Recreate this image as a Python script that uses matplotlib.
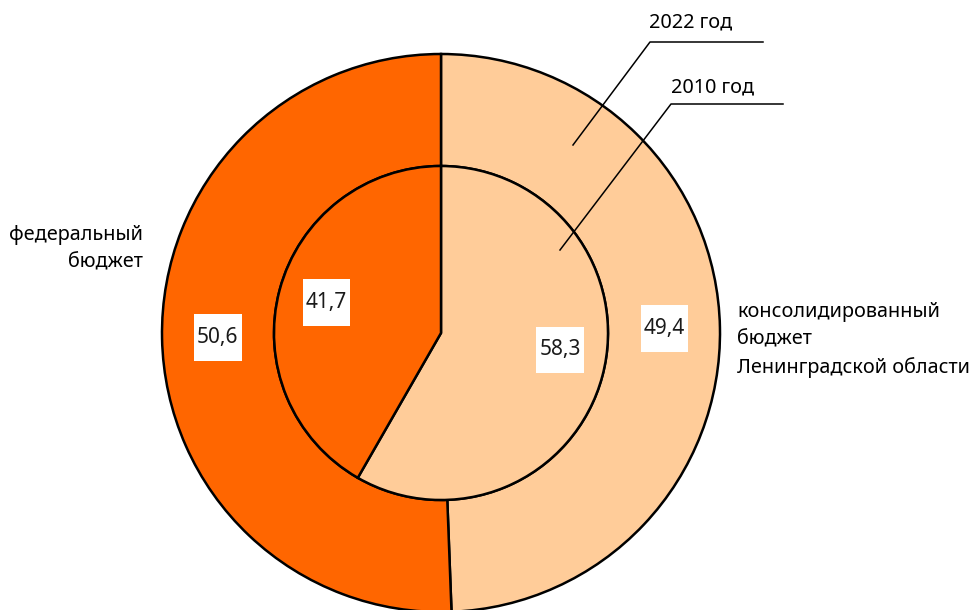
import matplotlib
matplotlib.use('Agg')
import matplotlib.pyplot as plt
from matplotlib.path import Path

# данные (%)
categories = ['консолидированный\nбюджет\nЛенинградской области', 'федеральный\nбюджет']
values_2022 = [49.4, 50.6]
values_2010 = [58.3, 41.7]
colors = ['#FFCC99', '#FF6600']

plt.rcParams['font.family'] = ['Noto Sans', 'DejaVu Sans']

W, H = 972, 610
fig = plt.figure(figsize=(W / 100, H / 100), dpi=100)
ax = fig.add_axes([0, 0, 1, 1])

cx, cy = 441, H - 333
r_out, r_in = 279, 167
fs = 14.3


def fmt(p):
    return f'{p:.1f}'.replace('.', ',')


def tall_box(x0, y0, w, h, mutation_size):
    # белая подложка: узкие поля по бокам, широкие сверху/снизу
    px, py = 0.14 * mutation_size, 0.62 * mutation_size
    x0, y0, x1, y1 = x0 - px, y0 - py, x0 + w + px, y0 + h + py
    return Path([(x0, y0), (x1, y0), (x1, y1), (x0, y1), (x0, y0)],
                [Path.MOVETO, Path.LINETO, Path.LINETO, Path.LINETO, Path.CLOSEPOLY])


box = dict(boxstyle=tall_box, facecolor='white', edgecolor='none')
edge = dict(edgecolor='black', linewidth=1.8)

# внешнее кольцо - 2022 год
w_out, _, t_out = ax.pie(values_2022, colors=colors, startangle=90, counterclock=False,
                         radius=r_out, center=(cx, cy), wedgeprops=dict(width=r_out - r_in, **edge),
                         autopct=fmt, pctdistance=0.8, frame=True)
# внутренний круг - 2010 год
w_in, _, t_in = ax.pie(values_2010, colors=colors, startangle=90, counterclock=False,
                       radius=r_in, center=(cx, cy), wedgeprops=edge,
                       autopct=fmt, pctdistance=0.71, frame=True)
ax.set_xlim(0, W)
ax.set_ylim(0, H)
ax.set_aspect('equal')
ax.axis('off')

for t in list(t_out) + list(t_in):
    t.set_fontsize(15)
    t.set_color('#1a1a1a')
    t.set_bbox(box)
# подпись 58,3 в оригинале сдвинута ближе к горизонтали
t_in[0].set_position((cx + 119, cy - 17))

# подписи годов с выносками
ax.plot([573, 650, 763], [H - 145, H - 42, H - 42], color='black', lw=1.1)
ax.plot([560, 671, 783], [H - 250, H - 104, H - 104], color='black', lw=1.1)
ax.text(691, H - 22, '2022 год', ha='center', va='center', fontsize=fs)
ax.text(713, H - 87, '2010 год', ha='center', va='center', fontsize=fs)

# подписи категорий
ax.text(143, H - 249, categories[1], ha='right', va='center', fontsize=fs, linespacing=1.5)
ax.text(737, H - 340, categories[0], ha='left', va='center', fontsize=fs, linespacing=1.5)

plt.savefig('out.png', dpi=100)
